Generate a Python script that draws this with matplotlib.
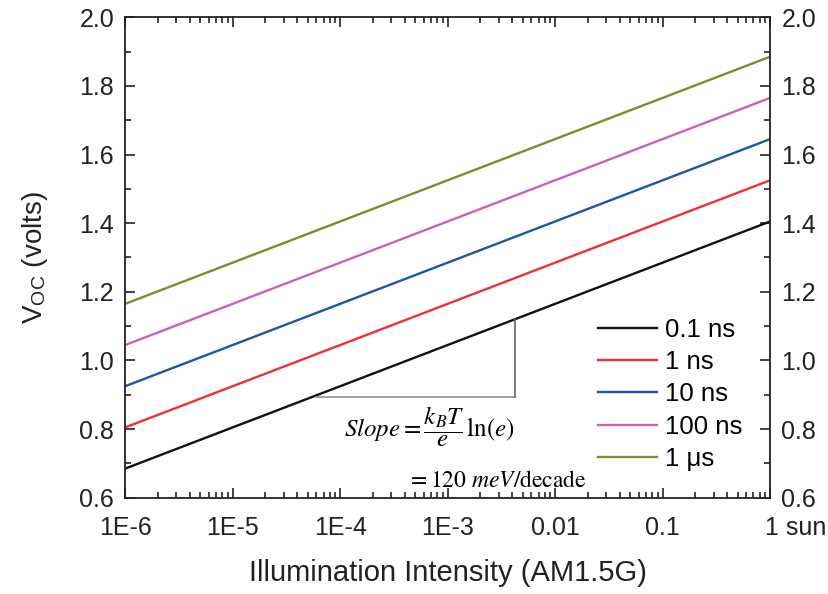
import numpy as np
import matplotlib
matplotlib.use('Agg')
import matplotlib.pyplot as plt
import matplotlib.transforms as mtransforms
from matplotlib.ticker import MultipleLocator, LogLocator, NullFormatter, FormatStrFormatter

plt.rcParams['font.family'] = ['Liberation Sans', 'DejaVu Sans']
plt.rcParams['mathtext.fontset'] = 'stix'

# data
intensity = [1e-6, 1.0]
labels = ['0.1 ns', '1 ns', '10 ns', '100 ns', '1 \u03bcs']
voc_low = [0.685, 0.805, 0.925, 1.045, 1.165]   # V at 1E-6 sun
voc_high = [1.405, 1.525, 1.645, 1.765, 1.885]  # V at 1 sun
colors = ['#111111', '#ee2f34', '#1f55a5', '#c862b8', '#7d8c2c']

xticks = [1e-6, 1e-5, 1e-4, 1e-3, 1e-2, 1e-1, 1]
xticklabels = ['1E-6', '1E-5', '1E-4', '1E-3', '0.01', '0.1', '1 sun']

# slope triangle corners (on the 0.1 ns line)
tri_x = [6e-5, 4.2e-3]
tri_y = [0.894, 1.12]

fig = plt.figure(figsize=(8.29, 5.94), dpi=100)
ax = fig.add_axes([0.151, 0.162, 0.778, 0.809])

for lo, hi, lab, c in zip(voc_low, voc_high, labels, colors):
    ax.plot(intensity, [lo, hi], color=c, lw=1.7, label=lab)

# slope triangle
ax.plot([tri_x[0], tri_x[1]], [tri_y[0], tri_y[0]], color='#888888', lw=1.1)
ax.plot([tri_x[1], tri_x[1]], [tri_y[0], tri_y[1]], color='#555555', lw=1.1)

ax.text(6.8e-4, 0.807, r'$Slope = \dfrac{k_B T}{e}\,\ln(e)$', fontsize=18,
        ha='center', va='center')
ax.text(2.9e-3, 0.649, r'$= 120\ meV/\mathrm{decade}$', fontsize=17,
        ha='center', va='center')

ax.set_xscale('log')
ax.set_xlim(1e-6, 1)
ax.set_ylim(0.6, 2.0)
ax.set_xticks(xticks)
ax.set_xticklabels(xticklabels)
ax.xaxis.set_minor_locator(LogLocator(base=10, subs=np.arange(2, 10), numticks=20))
ax.xaxis.set_minor_formatter(NullFormatter())
ax.yaxis.set_major_locator(MultipleLocator(0.2))
ax.yaxis.set_minor_locator(MultipleLocator(0.1))
ax.yaxis.set_major_formatter(FormatStrFormatter('%.1f'))

ax.tick_params(which='both', direction='in', top=True, right=True,
               labelright=True, width=1.2, colors='#222222', labelcolor='#222222')
ax.tick_params(which='major', length=7, labelsize=18)
ax.tick_params(axis='y', which='major', pad=8)
ax.tick_params(axis='x', which='major', pad=13)
ax.tick_params(which='minor', length=4)
for s in ax.spines.values():
    s.set_linewidth(1.3)
    s.set_color('#222222')

# '1 sun': keep the "1" centred on its tick
last = ax.get_xticklabels()[-1]
last.set_ha('left')
last.set_transform(last.get_transform() +
                   mtransforms.ScaledTranslation(-5 / 100, 0, fig.dpi_scale_trans))

ax.set_xlabel('Illumination Intensity (AM1.5G)', fontsize=21, color='#222222', labelpad=14)
ax.set_ylabel(r'V$_{\mathregular{OC}}$ (volts)', fontsize=20, color='#222222', labelpad=21)

ax.legend(loc='lower right', bbox_to_anchor=(0.993, 0.008), frameon=False,
          fontsize=18.5, handlelength=2.3, handletextpad=0.3, labelspacing=0.32)

fig.savefig('out.png', dpi=100)
